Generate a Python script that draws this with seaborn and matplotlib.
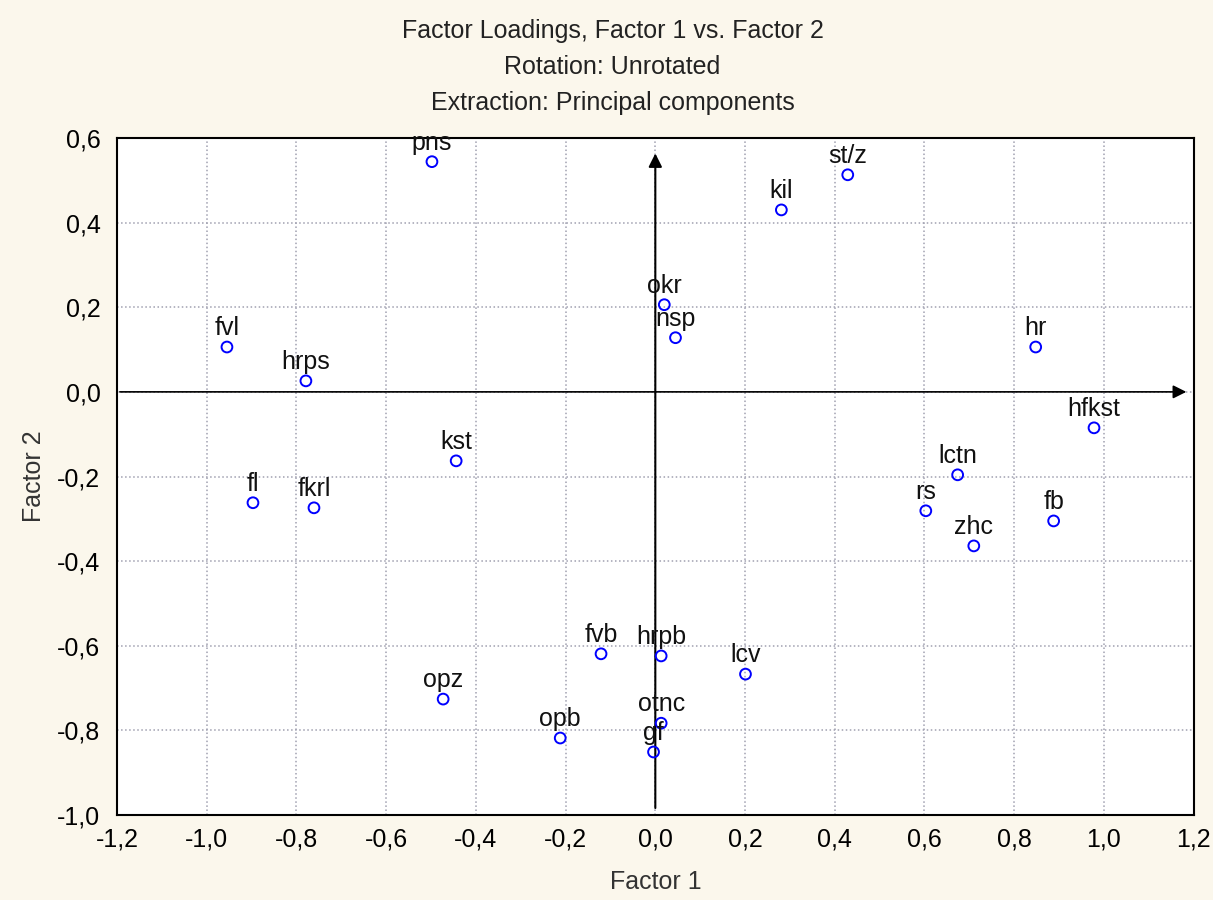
import matplotlib
matplotlib.use("Agg")
import matplotlib.pyplot as plt
import matplotlib.ticker as mticker
import seaborn as sns
import pandas as pd
import numpy as np

# === Data: factor loadings ===
variables = ["pns", "st/z", "kil", "okr", "nsp", "fvl", "hrps", "hr", "hfkst",
             "kst", "lctn", "fl", "fkrl", "rs", "fb", "zhc", "fvb", "hrpb",
             "lcv", "opz", "opb", "otnc", "gf"]
factor1 = [-0.498, 0.429, 0.281, 0.020, 0.045, -0.955, -0.779, 0.848, 0.978,
           -0.444, 0.674, -0.897, -0.761, 0.603, 0.888, 0.710, -0.121, 0.013,
           0.201, -0.473, -0.212, 0.013, -0.004]
factor2 = [0.544, 0.513, 0.430, 0.206, 0.128, 0.106, 0.026, 0.106, -0.085,
           -0.163, -0.196, -0.262, -0.274, -0.281, -0.305, -0.364, -0.619, -0.624,
           -0.667, -0.726, -0.818, -0.783, -0.851]

df = pd.DataFrame({"var": variables, "Factor 1": factor1, "Factor 2": factor2})

sns.set_style("white")
plt.rcParams["font.family"] = ["Liberation Sans", "DejaVu Sans"]

fig = plt.figure(figsize=(12.13, 9), dpi=100, facecolor="#fbf7ec")
ax = fig.add_axes([0.0965, 0.0944, 0.8875, 0.7523])
ax.set_facecolor("white")

sns.scatterplot(data=df, x="Factor 1", y="Factor 2", ax=ax, marker="o",
                s=60, facecolor="none", edgecolor="#0000ff", linewidth=1.4,
                zorder=3)

for _, r in df.iterrows():
    ax.annotate(r["var"], (r["Factor 1"], r["Factor 2"]), xytext=(0, 5),
                textcoords="offset points", ha="center", va="bottom",
                fontsize=18, color="#111111", zorder=4)

# axes through origin with arrows
ax.annotate("", xy=(0, 0.57), xytext=(0, -0.99),
            arrowprops=dict(arrowstyle="-|>", color="black", lw=1.5,
                            mutation_scale=20), zorder=2)
ax.annotate("", xy=(1.19, 0), xytext=(-1.2, 0),
            arrowprops=dict(arrowstyle="-|>", color="black", lw=1.2,
                            mutation_scale=20), zorder=2)

ax.set_xlim(-1.2, 1.2)
ax.set_ylim(-1.0, 0.6)
ax.xaxis.set_major_locator(mticker.MultipleLocator(0.2))
ax.yaxis.set_major_locator(mticker.MultipleLocator(0.2))
fmt = mticker.FuncFormatter(lambda v, p: f"{v:.1f}".replace(".", ",").replace("-0,0", "0,0"))
ax.xaxis.set_major_formatter(fmt)
ax.yaxis.set_major_formatter(fmt)
ax.tick_params(direction="in", length=4, width=1.2, labelsize=18,
               colors="black", pad=12)
ax.tick_params(axis="x", pad=9)
ax.grid(True, linestyle=":", color="#a0a0b0", linewidth=1.1)

for s in ax.spines.values():
    s.set_color("black")
    s.set_linewidth(1.5)

ax.set_xlabel("Factor 1", fontsize=18, color="#333333", labelpad=13)
ax.set_ylabel("Factor 2", fontsize=18, color="#333333", labelpad=8)

fig.text(0.505, 0.966, "Factor Loadings, Factor 1 vs. Factor 2", ha="center",
         va="center", fontsize=18, color="#222222")
fig.text(0.505, 0.926, "Rotation: Unrotated", ha="center", va="center",
         fontsize=18, color="#222222")
fig.text(0.505, 0.886, "Extraction: Principal components", ha="center",
         va="center", fontsize=18, color="#222222")

fig.savefig("out.png", dpi=100, facecolor=fig.get_facecolor())
